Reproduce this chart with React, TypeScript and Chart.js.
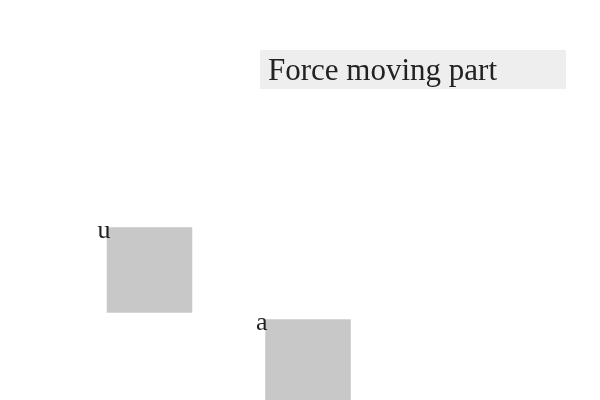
import { useEffect, useRef } from "react";
import { Chart, registerables } from "chart.js";

Chart.register(...registerables);

// data
const labels = ["u", "a"];
const xValues = [149.5, 308];
const yValues = [270, 362];
const titleText = "Force moving part";

const overlay = {
  id: "overlay",
  afterDatasetsDraw(chart: any) {
    const ctx = chart.ctx;
    const meta = chart.getDatasetMeta(0);
    ctx.save();
    // title box
    ctx.fillStyle = "#eeeeee";
    ctx.fillRect(260, 50, 306, 39);
    ctx.fillStyle = "#222";
    ctx.font = "31px 'Liberation Serif'";
    ctx.textBaseline = "alphabetic";
    ctx.fillText(titleText, 268, 80);
    // point labels
    ctx.font = "26px 'Liberation Serif'";
    meta.data.forEach((p: any, i: number) => {
      ctx.fillText(labels[i], p.x - 52, p.y - 32);
    });
    ctx.restore();
  },
};

export default function App() {
  const canvasRef = useRef<HTMLCanvasElement>(null);

  useEffect(() => {
    if (!canvasRef.current) return;
    const chart = new Chart(canvasRef.current, {
      type: "scatter",
      data: {
        labels,
        datasets: [
          {
            data: xValues.map((x, i) => ({ x, y: yValues[i] })),
            pointStyle: "rect",
            pointRadius: 60.5,
            backgroundColor: "#c8c8c8",
            borderWidth: 0,
            clip: false,
          },
        ],
      },
      options: {
        animation: false,
        responsive: false,
        layout: { padding: 0, autoPadding: false },
        plugins: { legend: { display: false }, tooltip: { enabled: false } },
        scales: {
          x: { type: "linear", min: 0, max: 600, display: false },
          y: { type: "linear", min: 0, max: 400, reverse: true, display: false },
        },
      },
      plugins: [overlay],
    });
    return () => chart.destroy();
  }, []);

  return (
    <div style={{ position: "absolute", left: 0, top: 0, width: 600, height: 400 }}>
      <canvas ref={canvasRef} width={600} height={400} />
    </div>
  );
}
